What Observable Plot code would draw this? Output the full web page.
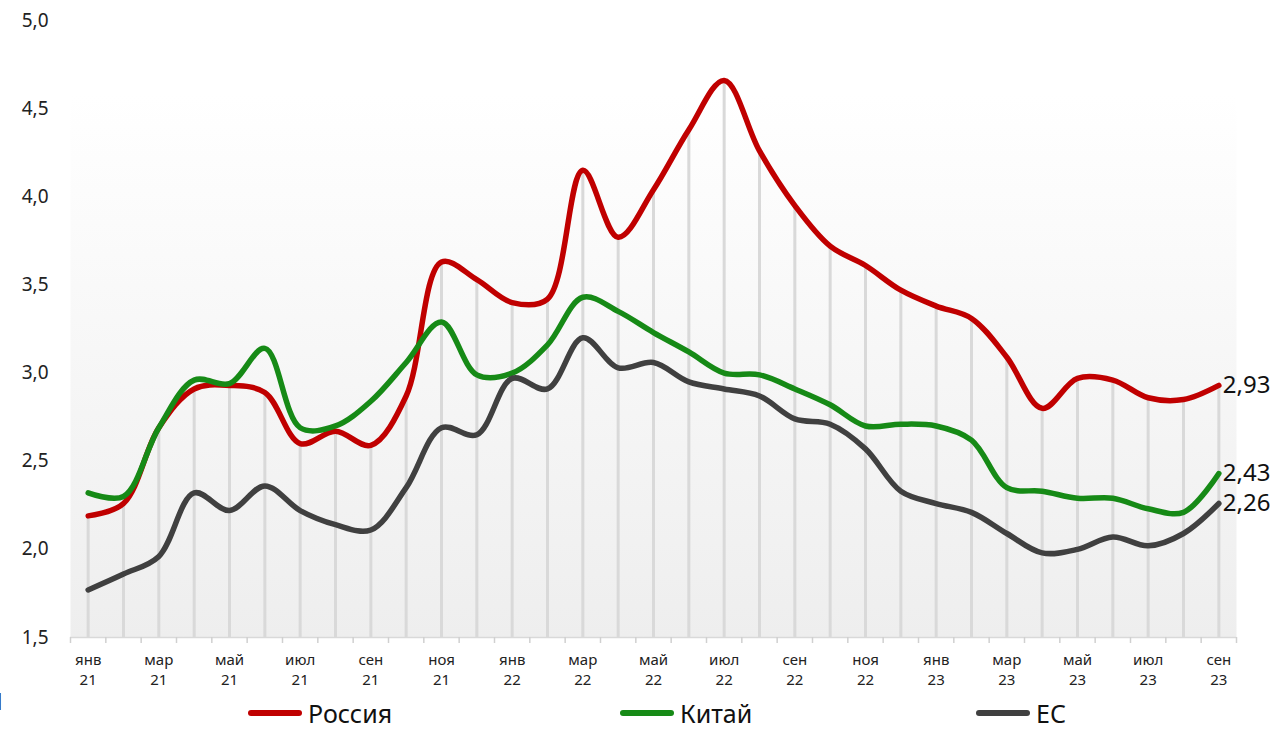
<!DOCTYPE html>
<html>
<head>
<meta charset="utf-8">
<script src="https://cdn.jsdelivr.net/npm/d3@7"></script>
<script src="https://cdn.jsdelivr.net/npm/@observablehq/plot@0.6"></script>
<style>
  html, body { margin: 0; padding: 0; background: #fff; width: 1278px; height: 729px; overflow: hidden; }
  body { font-family: "Noto Sans", sans-serif; position: relative; }
  #legend { position: absolute; left: 0; top: 697px; width: 1278px; height: 32px; }
  .item { position: absolute; top: 0; height: 32px; display: flex; align-items: center; font-size: 25px; color: #111; }
  .sw { display: inline-block; width: 54px; height: 6px; border-radius: 3px; margin-right: 6px; }
  #stray { position: absolute; left: -8px; top: 684px; font-size: 24px; color: #111; }
</style>
</head>
<body>
<div id="chart"></div>
<div id="legend"></div>
<div id="stray">1</div>
<script>
const months = ["янв","фев","мар","апр","май","июн","июл","авг","сен","окт","ноя","дек"];
const years = ["21","22","23"];
const periods = d3.range(33).map(i => months[i % 12] + "\n" + years[Math.floor(i / 12)]);

const russia = [2.19,2.26,2.69,2.91,2.93,2.89,2.60,2.67,2.59,2.87,3.63,3.53,3.40,3.42,4.15,3.77,4.04,4.38,4.66,4.26,3.95,3.72,3.61,3.47,3.38,3.31,3.09,2.80,2.97,2.96,2.86,2.85,2.93];
const china  = [2.32,2.30,2.69,2.96,2.94,3.14,2.69,2.70,2.84,3.06,3.29,2.99,3.00,3.16,3.43,3.35,3.23,3.12,3.00,2.99,2.91,2.82,2.70,2.71,2.70,2.62,2.35,2.33,2.29,2.29,2.23,2.21,2.43];
const eu     = [1.77,1.86,1.96,2.32,2.22,2.36,2.22,2.14,2.11,2.35,2.69,2.65,2.97,2.91,3.20,3.03,3.06,2.95,2.91,2.87,2.74,2.71,2.57,2.33,2.26,2.21,2.09,1.98,2.00,2.07,2.02,2.09,2.26];

const seriesNames = ["Россия", "Китай", "ЕС"];
const seriesColors = ["#c00000", "#168a16", "#404040"];
const yTicks = [1.5, 2.0, 2.5, 3.0, 3.5, 4.0, 4.5, 5.0];

const allSeries = [russia, china, eu];
const rows = allSeries.flatMap((vals, s) => vals.map((v, i) => ({i, v, s: seriesNames[s]})));
const rusRows = russia.map((v, i) => ({i, v}));
const lastRows = allSeries.map((vals, s) => ({i: vals.length - 1, v: vals[vals.length - 1], s: seriesNames[s]}));
const fmt = d => d.toFixed(2).replace(".", ",");

const plot = Plot.plot({
  width: 1278,
  height: 697,
  marginLeft: 70,
  marginRight: 42,
  marginTop: 20,
  marginBottom: 60,
  style: {fontFamily: "Noto Sans, sans-serif", background: "transparent"},
  x: {type: "linear", domain: [-0.5, 32.5], label: null},
  y: {domain: [1.5, 5.0], label: null},
  color: {domain: seriesNames, range: seriesColors},
  marks: [
    Plot.frame({fill: "url(#bggrad)", stroke: null}),
    Plot.ruleX(rusRows, {x: "i", y1: 1.5, y2: "v", stroke: "#d9d9d9", strokeWidth: 3}),
    Plot.ruleY([1.5], {stroke: "#d9d9d9", strokeWidth: 1.5}),
    Plot.axisX(d3.range(34).map(k => k - 0.5), {tickSize: 6, tickFormat: () => "", stroke: "#d0d0d0", strokeWidth: 1.5, label: null}),
    Plot.axisX(d3.range(0, 33, 2), {tickSize: 0, tickPadding: 14, tickFormat: i => periods[i], fontSize: 15, lineHeight: 1.3, fill: "#222", label: null}),
    Plot.axisY(yTicks, {tickSize: 0, tickPadding: 22, tickFormat: d => d.toFixed(1).replace(".", ","), fontSize: 19, fill: "#222", label: null}),
    Plot.line(rows, {x: "i", y: "v", z: "s", stroke: "s", strokeWidth: 5.5, curve: "catmull-rom", strokeLinecap: "round", strokeLinejoin: "round"}),
    Plot.text(lastRows, {x: "i", y: "v", text: d => fmt(d.v), textAnchor: "start", dx: 4, fontSize: 24, fill: "#111"})
  ]
});

const svg = d3.select(plot);
const defs = svg.insert("defs", ":first-child");
const g = defs.append("linearGradient").attr("id", "bggrad").attr("x1", 0).attr("y1", 0).attr("x2", 0).attr("y2", 1);
g.append("stop").attr("offset", "0%").attr("stop-color", "#ffffff");
g.append("stop").attr("offset", "12%").attr("stop-color", "#ffffff");
g.append("stop").attr("offset", "100%").attr("stop-color", "#eeeeee");
document.getElementById("chart").appendChild(plot);

const legendPos = [248, 620, 976];
const legend = document.getElementById("legend");
seriesNames.forEach((n, k) => {
  const it = document.createElement("div");
  it.className = "item";
  it.style.left = legendPos[k] + "px";
  it.innerHTML = `<span class="sw" style="background:${seriesColors[k]}"></span><span>${n}</span>`;
  legend.appendChild(it);
});
</script>
</body>
</html>
